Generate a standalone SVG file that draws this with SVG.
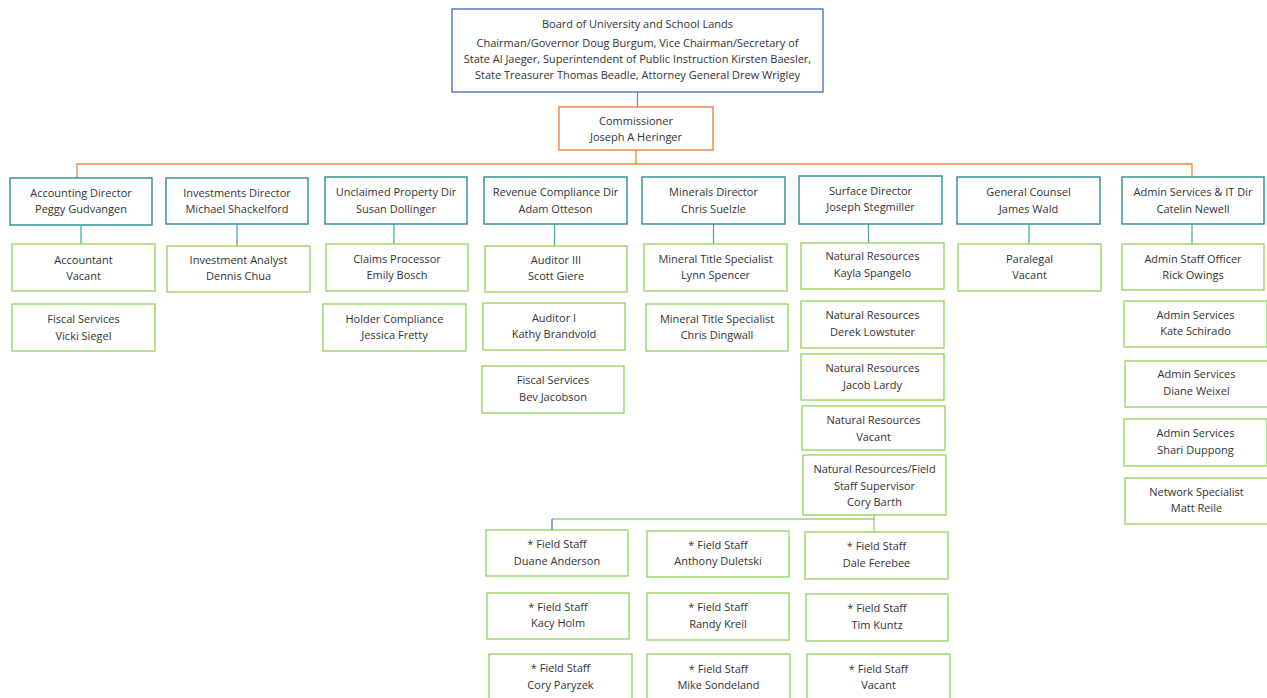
<svg xmlns="http://www.w3.org/2000/svg" width="1267" height="698" viewBox="0 0 1267 698">
<style>
text{font-family:"Open Sans","Noto Sans",sans-serif;font-size:11px;fill:#333;text-anchor:middle}
rect{fill:#fff;stroke-width:1.4}
.top rect{stroke:#4A74CC}
.com rect{stroke:#EE8240}
.dir rect{stroke:#2A8C8C}
.st rect{stroke:#9AD46A}
.c{fill:none;stroke-width:1.3}
</style>
<rect x="0" y="0" width="1267" height="698" style="fill:#fff;stroke:none"/>
<g id="connectors">
<path class="c" d="M637.5 92V107" stroke="#6A8FD8"/>
<path class="c" d="M636 150V164M77 178V164H1192V177" stroke="#EE8240"/>
<path class="c" d="M81 225V244M237 224V246M394 224V244M554.5 224V246M713.5 224V244M868.5 224V243M1029 224V244M1192 224V244" stroke="#4FAAAB"/>
<path class="c" d="M874 515V519H552" stroke="#9AD46A"/>
<path class="c" d="M874 519V532" stroke="#9AD46A"/>
<path class="c" d="M552 519V530" stroke="#4A74CC"/>
</g>
<g id="board" class="top"><rect x="452" y="9" width="371" height="83"/>
<text x="637.5" y="27.5">Board of University and School Lands</text>
<text x="637.5" y="47.3">Chairman/Governor Doug Burgum, Vice Chairman/Secretary of</text>
<text x="637.5" y="63.3">State Al Jaeger, Superintendent of Public Instruction Kirsten Baesler,</text>
<text x="637.5" y="79.3">State Treasurer Thomas Beadle, Attorney General Drew Wrigley</text></g>
<g id="commissioner" class="com"><rect x="559" y="107" width="154" height="43"/>
<text x="636" y="124.5">Commissioner</text><text x="636" y="140.5">Joseph A Heringer</text></g>

<g id="acct-dir" class="dir"><rect x="10" y="178" width="142" height="47"/>
<text x="81" y="197">Accounting Director</text><text x="81" y="213">Peggy Gudvangen</text></g>
<g id="inv-dir" class="dir"><rect x="166" y="178" width="142" height="46"/>
<text x="237" y="196.5">Investments Director</text><text x="237" y="212.5">Michael Shackelford</text></g>
<g id="unc-dir" class="dir"><rect x="325" y="177" width="142" height="47"/>
<text x="396" y="196">Unclaimed Property Dir</text><text x="396" y="212.5">Susan Dollinger</text></g>
<g id="rev-dir" class="dir"><rect x="484" y="177" width="143" height="47"/>
<text x="555.5" y="196">Revenue Compliance Dir</text><text x="555.5" y="212.5">Adam Otteson</text></g>
<g id="min-dir" class="dir"><rect x="642" y="177" width="143" height="47"/>
<text x="713.5" y="196">Minerals Director</text><text x="713.5" y="212.5">Chris Suelzle</text></g>
<g id="surf-dir" class="dir"><rect x="799" y="176" width="143" height="48"/>
<text x="870.5" y="195">Surface Director</text><text x="870.5" y="211">Joseph Stegmiller</text></g>
<g id="gc-dir" class="dir"><rect x="957" y="177" width="143" height="47"/>
<text x="1028.5" y="196">General Counsel</text><text x="1028.5" y="212.5">James Wald</text></g>
<g id="adm-dir" class="dir"><rect x="1122" y="177" width="142" height="47"/>
<text x="1193" y="196">Admin Services &amp; IT Dir</text><text x="1193" y="212.5">Catelin Newell</text></g>

<g id="accountant" class="st"><rect x="12" y="244" width="143" height="47"/>
<text x="83.5" y="263.5">Accountant</text><text x="83.5" y="279.5">Vacant</text></g>
<g id="fiscal-vicki" class="st"><rect x="12" y="304" width="143" height="47"/>
<text x="83.5" y="323">Fiscal Services</text><text x="83.5" y="339.5">Vicki Siegel</text></g>
<g id="inv-analyst" class="st"><rect x="167" y="246" width="143" height="46"/>
<text x="238.5" y="263.5">Investment Analyst</text><text x="238.5" y="280">Dennis Chua</text></g>
<g id="claims" class="st"><rect x="326" y="244" width="142" height="47"/>
<text x="397" y="262.5">Claims Processor</text><text x="397" y="279">Emily Bosch</text></g>
<g id="holder" class="st"><rect x="323" y="304" width="143" height="47"/>
<text x="394.5" y="322.5">Holder Compliance</text><text x="394.5" y="339">Jessica Fretty</text></g>
<g id="auditor3" class="st"><rect x="485" y="246" width="142" height="46"/>
<text x="556" y="263.5">Auditor III</text><text x="556" y="280">Scott Giere</text></g>
<g id="auditor1" class="st"><rect x="483" y="303" width="142" height="47"/>
<text x="554" y="322">Auditor I</text><text x="554" y="338">Kathy Brandvold</text></g>
<g id="fiscal-bev" class="st"><rect x="482" y="366" width="142" height="47"/>
<text x="553" y="384">Fiscal Services</text><text x="553" y="401">Bev Jacobson</text></g>
<g id="mts-lynn" class="st"><rect x="644" y="244" width="143" height="47"/>
<text x="715.5" y="262.5">Mineral Title Specialist</text><text x="715.5" y="279">Lynn Spencer</text></g>
<g id="mts-chris" class="st"><rect x="646" y="304" width="142" height="47"/>
<text x="717" y="322.5">Mineral Title Specialist</text><text x="717" y="339">Chris Dingwall</text></g>
<g id="nr-kayla" class="st"><rect x="801" y="243" width="143" height="46"/>
<text x="872.5" y="260">Natural Resources</text><text x="872.5" y="277">Kayla Spangelo</text></g>
<g id="nr-derek" class="st"><rect x="801" y="301" width="143" height="47"/>
<text x="872.5" y="319">Natural Resources</text><text x="872.5" y="336">Derek Lowstuter</text></g>
<g id="nr-jacob" class="st"><rect x="801" y="354" width="143" height="46"/>
<text x="872.5" y="372">Natural Resources</text><text x="872.5" y="388.5">Jacob Lardy</text></g>
<g id="nr-vacant" class="st"><rect x="802" y="406" width="143" height="44"/>
<text x="873.5" y="424">Natural Resources</text><text x="873.5" y="440.5">Vacant</text></g>
<g id="nr-cory" class="st"><rect x="803" y="455" width="143" height="60"/>
<text x="874.5" y="472.5">Natural Resources/Field</text><text x="874.5" y="489.5">Staff Supervisor</text><text x="874.5" y="506">Cory Barth</text></g>
<g id="paralegal" class="st"><rect x="958" y="244" width="143" height="47"/>
<text x="1029.5" y="262.5">Paralegal</text><text x="1029.5" y="279">Vacant</text></g>
<g id="adm-rick" class="st"><rect x="1122" y="244" width="142" height="46"/>
<text x="1193" y="262.5">Admin Staff Officer</text><text x="1193" y="278.5">Rick Owings</text></g>
<g id="adm-kate" class="st"><rect x="1124" y="301" width="143" height="46"/>
<text x="1195.5" y="318.5">Admin Services</text><text x="1195.5" y="335">Kate Schirado</text></g>
<g id="adm-diane" class="st"><rect x="1125" y="361" width="143" height="46"/>
<text x="1196.5" y="378">Admin Services</text><text x="1196.5" y="395">Diane Weixel</text></g>
<g id="adm-shari" class="st"><rect x="1124" y="419" width="143" height="47"/>
<text x="1195.5" y="437">Admin Services</text><text x="1195.5" y="454">Shari Duppong</text></g>
<g id="net-matt" class="st"><rect x="1125" y="478" width="143" height="46"/>
<text x="1196.5" y="495.5">Network Specialist</text><text x="1196.5" y="512">Matt Reile</text></g>

<g id="fs-duane" class="st"><rect x="486" y="530" width="142" height="46"/>
<text x="557" y="548">* Field Staff</text><text x="557" y="565">Duane Anderson</text></g>
<g id="fs-kacy" class="st"><rect x="487" y="593" width="142" height="46"/>
<text x="558" y="611">* Field Staff</text><text x="558" y="627">Kacy Holm</text></g>
<g id="fs-cory" class="st"><rect x="489" y="654" width="143" height="46"/>
<text x="560.5" y="672">* Field Staff</text><text x="560.5" y="688.5">Cory Paryzek</text></g>
<g id="fs-anthony" class="st"><rect x="647" y="531" width="142" height="46"/>
<text x="718" y="549">* Field Staff</text><text x="718" y="565">Anthony Duletski</text></g>
<g id="fs-randy" class="st"><rect x="647" y="593" width="142" height="47"/>
<text x="718" y="611">* Field Staff</text><text x="718" y="628">Randy Kreil</text></g>
<g id="fs-mike" class="st"><rect x="647" y="654" width="143" height="46"/>
<text x="718.5" y="673">* Field Staff</text><text x="718.5" y="689">Mike Sondeland</text></g>
<g id="fs-dale" class="st"><rect x="805" y="532" width="143" height="47"/>
<text x="876.5" y="550">* Field Staff</text><text x="876.5" y="567">Dale Ferebee</text></g>
<g id="fs-tim" class="st"><rect x="806" y="594" width="142" height="47"/>
<text x="877" y="612">* Field Staff</text><text x="877" y="629">Tim Kuntz</text></g>
<g id="fs-vacant" class="st"><rect x="807" y="654" width="143" height="46"/>
<text x="878.5" y="673">* Field Staff</text><text x="878.5" y="689">Vacant</text></g>
</svg>
